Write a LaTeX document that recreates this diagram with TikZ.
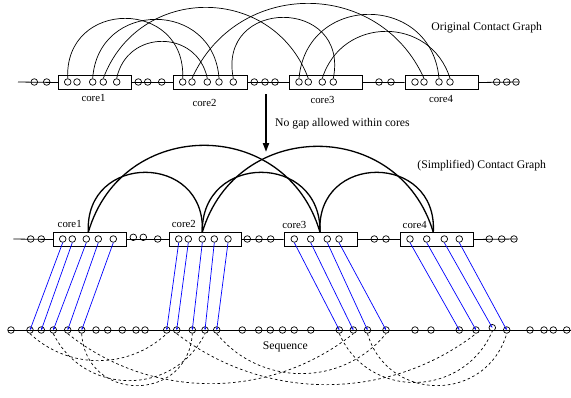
\documentclass[tikz,border=0pt]{standalone}
\usepackage{fontspec}
\setmainfont{Liberation Serif}
\usetikzlibrary{arrows.meta}
\tikzset{
  res/.style={circle,draw,line width=0.7pt,minimum size=6.6pt,inner sep=0pt},
  corebox/.style={draw,line width=0.8pt,minimum height=14pt,inner sep=0pt},
  chain/.style={line width=0.8pt},
  contact/.style={line width=0.7pt},
  simple/.style={line width=1.3pt},
  mapline/.style={blue,line width=0.7pt,-{Stealth[length=2.5pt,width=2.2pt]}},
  seqarc/.style={line width=0.7pt,dash pattern=on 2.6pt off 2.6pt},
  lbl/.style={font=\fontsize{11.7}{14}\selectfont,inner sep=0pt},
  clbl/.style={font=\fontsize{10.8}{13}\selectfont,inner sep=0pt},
}
% circular arc between two anchors: style, node, node, anchor, sagitta (pt), +1 up / -1 down
\newcommand\contactarc[6]{%
  \pgfpointdiff{\pgfpointanchor{#2}{#4}}{\pgfpointanchor{#3}{#4}}%
  \pgfgetlastxy{\arcdx}{\arcdy}%
  \pgfmathsetmacro\arcang{2*atan(2*#5/\arcdx)}%
  \pgfmathsetmacro\arcctl{4/3*#5/sin(\arcang)}%
  \draw[#1] (#2.#4) .. controls +(#6*\arcang:\arcctl pt) and +(180-#6*\arcang:\arcctl pt) .. (#3.#4);}
\begin{document}
\begin{tikzpicture}[x=1pt,y=-1pt]
\useasboundingbox (0,0) rectangle (571,397);

% ---------- original contact graph ----------
\coordinate (ts) at (18,82);
\coordinate (te) at (519,82);
\node[corebox,minimum width=72.7pt] (B1) at (94.65,82.5) {};
\node[corebox,minimum width=73.3pt] (B2) at (210.35,82.5) {};
\node[corebox,minimum width=73pt]   (B3) at (325.8,82.5) {};
\node[corebox,minimum width=73.3pt] (B4) at (441.65,82.5) {};
\draw[chain] (ts) -- (B1.west) (B1.east) -- (B2.west) (B2.east) -- (B3.west)
  (B3.east) -- (B4.west) (B4.east) -- (te);
\foreach \x [count=\i] in {34.3,46.7,138.3,147.7,161.7,254.3,265,275,379,391,496.7,506.7,516}
  \node[res] (tf\i) at (\x,82) {};
\foreach \x [count=\i] in {67.7,77,92.7,103.3,116.7} \node[res] (ta\i) at (\x,82) {};
\foreach \x [count=\i] in {182.7,192,207.3,219,233.3} \node[res] (tb\i) at (\x,82) {};
\foreach \x [count=\i] in {299,308.3,322.3,333.3} \node[res] (tc\i) at (\x,82) {};
\foreach \x [count=\i] in {415,424,439,450} \node[res] (td\i) at (\x,82) {};
\node[clbl] (l1) at (93.5,98) {core1};
\node[clbl] (l2) at (204.5,103) {core2};
\node[clbl] (l3) at (322.5,100) {core3};
\node[clbl] (l4) at (441,98.5) {core4};
\node[lbl] (otitle) at (486.7,27.5) {Original Contact Graph};

\contactarc{contact}{ta1}{tb1}{north}{60}{1}
\contactarc{contact}{ta3}{tb4}{north}{59}{1}
\contactarc{contact}{ta5}{tb3}{north}{37}{1}
\contactarc{contact}{ta4}{tc2}{north}{71}{1}
\contactarc{contact}{tb2}{td2}{north}{75}{1}
\contactarc{contact}{tb5}{tc4}{north}{61}{1}
\contactarc{contact}{tc1}{td3}{north}{64}{1}
\contactarc{contact}{tc3}{td4}{north}{47}{1}

% ---------- transition ----------
\coordinate (ar1) at (266,94);
\coordinate (ar2) at (266,152);
\draw[line width=2pt,-{Triangle[length=9pt,width=6pt]}] (ar1) -- (ar2);
\node[lbl,anchor=west] (gap) at (275,123.3) {No gap allowed within cores};

% ---------- simplified contact graph ----------
\coordinate (ss) at (13.3,239);
\coordinate (se) at (517,239);
\node[corebox,minimum width=73.4pt,minimum height=14.4pt] (S1) at (90,239.5) {};
\node[corebox,minimum width=72.4pt,minimum height=14.4pt] (S2) at (205.5,239.5) {};
\node[corebox,minimum width=73.7pt,minimum height=14.4pt] (S3) at (320.85,239.5) {};
\node[corebox,minimum width=72.6pt,minimum height=14.4pt] (S4) at (437,239.5) {};
\draw[chain] (ss) -- (S1.west) (S1.east) -- (S2.west) (S2.east) -- (S3.west)
  (S3.east) -- (S4.west) (S4.east) -- (se);
\foreach \x [count=\i] in {30.7,41.3}
  \node[res] (sf\i) at (\x,239) {};
\node[res] (sf3) at (133.3,237.3) {};
\node[res] (sf4) at (143.3,237.3) {};
\foreach \x [count=\i from 5] in {157.7,247.3,259,270.7,374.3,386,489.3,501.7,514}
  \node[res] (sf\i) at (\x,239) {};
\foreach \x [count=\i] in {62.7,72.3,86.3,98.3,113.3} \node[res] (sa\i) at (\x,239) {};
\foreach \x [count=\i] in {178.7,188.3,202.3,214.3,228} \node[res] (sb\i) at (\x,239) {};
\foreach \x [count=\i] in {294.3,310.7,327.3,339} \node[res] (sc\i) at (\x,239) {};
\foreach \x [count=\i] in {410,426.7,444.3,459.3} \node[res] (sd\i) at (\x,239) {};
\node[clbl] (m1) at (69.7,223.5) {core1};
\node[clbl] (m2) at (183.8,223.5) {core2};
\node[clbl] (m3) at (294.3,225) {core3};
\node[clbl] (m4) at (414.7,225) {core4};
\node[lbl] (stitle) at (481.7,166) {(Simplified) Contact Graph};

\coordinate (k1) at (88.3,232.3);
\coordinate (k2) at (202.3,232.3);
\coordinate (k3) at (320,232.3);
\coordinate (k4) at (433.3,232.3);
\contactarc{simple}{k1}{k2}{center}{60}{1}
\contactarc{simple}{k2}{k3}{center}{60}{1}
\contactarc{simple}{k3}{k4}{center}{60}{1}
\contactarc{simple}{k1}{k3}{center}{87}{1}
\contactarc{simple}{k2}{k4}{center}{86}{1}

% ---------- sequence ----------
\coordinate (qs) at (8,330);
\coordinate (qe) at (571,330);
\draw[chain] (qs) -- (qe);
\foreach \x [count=\i] in {11,96,107.7,122.3,136,145,242.3,258.7,270.3,282.5,294.2,310.8,415,431,530,544,553.3,566.7}
  \node[res] (qf\i) at (\x,330) {};
\foreach \x [count=\i] in {30,41.3,53.3,67.7,81.7} \node[res] (qa\i) at (\x,330) {};
\foreach \x [count=\i] in {166.7,176.7,192.3,205,216.7} \node[res] (qb\i) at (\x,330) {};
\foreach \x [count=\i] in {339.3,353.3,367.5,386} \node[res] (qc\i) at (\x,330) {};
\node[res] (qd1) at (459.3,330) {};
\node[res] (qd2) at (476,330) {};
\node[res] (qd3) at (492.3,327.7) {};
\node[res] (qd4) at (506.7,330) {};
\node[lbl] (seq) at (285.3,346.7) {Sequence};

% residue-to-sequence mapping
\foreach \i in {1,...,5} {
  \draw[mapline] (sa\i.south) -- (qa\i.center);
  \draw[mapline] (sb\i.south) -- (qb\i.center);
}
\foreach \i in {1,...,4} {
  \draw[mapline] (sc\i.south) -- (qc\i.center);
  \draw[mapline] (sd\i.south) -- (qd\i.center);
}

% contacts along the sequence
\contactarc{seqarc}{qa1}{qb1}{south}{27}{-1}
\contactarc{seqarc}{qa3}{qb4}{south}{47}{-1}
\contactarc{seqarc}{qa5}{qb3}{south}{52}{-1}
\contactarc{seqarc}{qa4}{qc2}{south}{50}{-1}
\contactarc{seqarc}{qb2}{qd2}{south}{51}{-1}
\contactarc{seqarc}{qb5}{qc4}{south}{40}{-1}
\contactarc{seqarc}{qc1}{qd3}{south}{50}{-1}
\contactarc{seqarc}{qc3}{qd4}{south}{52}{-1}
\end{tikzpicture}
\end{document}
